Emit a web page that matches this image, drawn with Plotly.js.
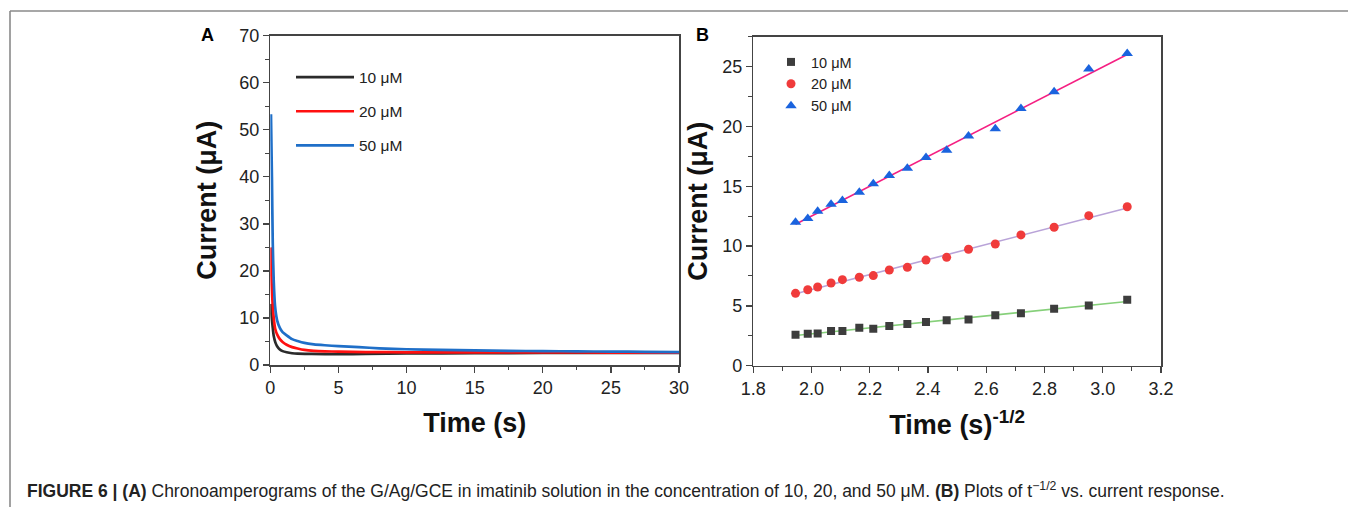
<!DOCTYPE html>
<html>
<head>
<meta charset="utf-8">
<script src="https://cdn.plot.ly/plotly-3.0.1.min.js"></script>
<style>
  html, body { margin: 0; padding: 0; background: #fff; }
  #chart { width: 1348px; height: 507px; }
</style>
</head>
<body>
<div id="chart"></div>
<script>
// ---------- Panel A: chronoamperograms (time in s, current in µA) ----------
const t10 = [0.03, 0.10, 0.16, 0.25, 0.37, 0.50, 0.70, 0.90, 1.2, 1.6, 2.0, 3.0, 5.0, 7.0, 10, 15, 20, 25, 30];
const i10 = [13.0, 10.0, 8.5, 6.2, 4.8, 4.0, 3.3, 2.95, 2.7, 2.5, 2.4, 2.35, 2.3, 2.35, 2.45, 2.5, 2.55, 2.55, 2.55];

const t20 = [0.03, 0.10, 0.18, 0.27, 0.37, 0.50, 0.70, 0.90, 1.2, 1.6, 2.0, 2.5, 3.2, 4.0, 5.0, 7.0, 10, 15, 20, 25, 30];
const i20 = [25.0, 17.0, 12.5, 9.5, 7.6, 6.5, 5.5, 4.9, 4.3, 3.8, 3.5, 3.2, 3.0, 2.9, 2.85, 2.75, 2.7, 2.7, 2.7, 2.65, 2.65];

const t50 = [0.05, 0.12, 0.18, 0.25, 0.35, 0.50, 0.70, 0.90, 1.2, 1.6, 2.0, 2.5, 3.2, 4.0, 5.0, 6.5, 8.0, 10, 12.5, 15, 17.5, 20, 22.5, 25, 27.5, 30];
const i50 = [53.3, 40.0, 26.0, 18.0, 12.5, 9.5, 7.9, 7.0, 6.3, 5.5, 5.1, 4.7, 4.4, 4.2, 4.0, 3.8, 3.55, 3.35, 3.2, 3.1, 3.0, 2.95, 2.9, 2.85, 2.8, 2.75];

const namesA = ["10 μM", "20 μM", "50 μM"];

// ---------- Panel B: t^-1/2 vs current ----------
const xB  = [1.945, 1.987, 2.021, 2.067, 2.106, 2.164, 2.212, 2.267, 2.329, 2.393, 2.464, 2.539, 2.631, 2.719, 2.833, 2.952, 3.084];
const y10 = [2.59, 2.68, 2.70, 2.90, 2.90, 3.18, 3.09, 3.32, 3.48, 3.65, 3.79, 3.87, 4.21, 4.38, 4.77, 5.04, 5.52];
const y20 = [6.05, 6.35, 6.58, 6.91, 7.19, 7.39, 7.53, 8.00, 8.22, 8.83, 9.06, 9.73, 10.17, 10.93, 11.57, 12.54, 13.29];
const y50 = [12.0, 12.3, 12.9, 13.5, 13.8, 14.5, 15.2, 15.9, 16.5, 17.4, 18.0, 19.2, 19.8, 21.5, 22.9, 24.8, 26.1];
const namesB = ["10 μM", "20 μM", "50 μM"];

// linear least-squares fit computed from the data
function fit(x, y) {
  const n = x.length;
  let sx = 0, sy = 0, sxx = 0, sxy = 0;
  for (let i = 0; i < n; i++) { sx += x[i]; sy += y[i]; sxx += x[i]*x[i]; sxy += x[i]*y[i]; }
  const b = (n*sxy - sx*sy) / (n*sxx - sx*sx);
  const a = (sy - b*sx) / n;
  const xs = [Math.min(...x), Math.max(...x)];
  return { x: xs, y: xs.map(v => a + b*v) };
}

const FONT = "Arial, 'Liberation Sans', Helvetica, sans-serif";
const lineColsA = ["#2b2b2b", "#ff1010", "#1f6fc8"];
const markCols = ["#3d3d3d", "#f03b3b", "#1a63de"];
const symbols = ["square", "circle", "triangle-up"];
const msizes = [8, 9, 10];
const fitCols = ["#86d07a", "#b9a3d8", "#f51f82"];

const traces = [];
[[t10,i10],[t20,i20],[t50,i50]].forEach((d, k) => {
  traces.push({
    x: d[0], y: d[1], type: "scatter", mode: "lines", name: namesA[k],
    line: { color: lineColsA[k], width: 2.7, shape: "spline", smoothing: 0.6 },
    xaxis: "x", yaxis: "y", legend: "legend", legendgroup: "a" + k
  });
});
[y10, y20, y50].forEach((yy, k) => {
  const f = fit(xB, yy);
  traces.push({
    x: f.x, y: f.y, type: "scatter", mode: "lines", showlegend: false,
    line: { color: fitCols[k], width: 1.6 }, xaxis: "x2", yaxis: "y2", hoverinfo: "skip"
  });
});
[y10, y20, y50].forEach((yy, k) => {
  traces.push({
    x: xB, y: yy, type: "scatter", mode: "markers", name: namesB[k],
    marker: { symbol: symbols[k], size: msizes[k], color: markCols[k] },
    xaxis: "x2", yaxis: "y2", legend: "legend2"
  });
});

const axisCommon = {
  showgrid: false, zeroline: false, showline: true, linecolor: "#444", linewidth: 1.5,
  mirror: true, ticks: "outside", ticklen: 6, tickwidth: 1.3, tickcolor: "#444",
  tickfont: { family: FONT, size: 18, color: "#222" }, automargin: false,
  fixedrange: true
};
const titleFont = { family: FONT, size: 27, color: "#111", weight: "bold" };

const W = 1348, H = 507;
const px = v => v / W, py = v => 1 - v / H;

const layout = {
  width: W, height: H, autosize: false,
  margin: { l: 0, r: 0, t: 0, b: 0 },
  paper_bgcolor: "#fff", plot_bgcolor: "#fff",
  xaxis: Object.assign({}, axisCommon, {
    domain: [px(270.3), px(679)], range: [0, 30], dtick: 5, tick0: 0,
    minor: { dtick: 2.5, ticks: "outside", ticklen: 3.5, tickcolor: "#444", tickwidth: 1 },
    title: { text: "<b>Time (s)</b>", font: titleFont, standoff: 16 },
    anchor: "y"
  }),
  yaxis: Object.assign({}, axisCommon, {
    domain: [py(365), py(35.7)], range: [0, 70], dtick: 10, tick0: 0,
    minor: { dtick: 5, ticks: "outside", ticklen: 3.5, tickcolor: "#444", tickwidth: 1 },
    title: { text: "<b>Current (μA)</b>", font: titleFont, standoff: 14 },
    anchor: "x"
  }),
  xaxis2: Object.assign({}, axisCommon, {
    domain: [px(753.3), px(1161)], range: [1.8, 3.2], dtick: 0.2, tick0: 1.8, tickformat: ".1f",
    minor: { dtick: 0.1, ticks: "outside", ticklen: 3.5, tickcolor: "#444", tickwidth: 1 },
    title: { text: "<b>Time (s)<sup>-1/2</sup></b>", font: titleFont, standoff: 17 },
    anchor: "y2"
  }),
  yaxis2: Object.assign({}, axisCommon, {
    domain: [py(365.7), py(36.7)], range: [0, 27.5], dtick: 5, tick0: 0,
    minor: { dtick: 2.5, ticks: "outside", ticklen: 3.5, tickcolor: "#444", tickwidth: 1 },
    title: { text: "<b>Current (μA)</b>", font: titleFont, standoff: 6 },
    anchor: "x2"
  }),
  showlegend: true,
  legend: {
    x: px(291), y: py(60.5), xanchor: "left", yanchor: "top",
    bgcolor: "rgba(0,0,0,0)", borderwidth: 0,
    font: { family: FONT, size: 15.5, color: "#222" },
    tracegroupgap: 11, itemwidth: 58
  },
  legend2: {
    x: px(771), y: py(46), xanchor: "left", yanchor: "top",
    bgcolor: "rgba(0,0,0,0)", borderwidth: 0,
    font: { family: FONT, size: 14.5, color: "#222" },
    itemwidth: 30
  },
  shapes: [
    { type: "line", xref: "paper", yref: "paper", x0: px(10), x1: 1, y0: py(11), y1: py(11),
      line: { color: "#8a8a8a", width: 1.6 } },
    { type: "line", xref: "paper", yref: "paper", x0: px(10), x1: px(10), y0: py(11), y1: 0,
      line: { color: "#8a8a8a", width: 1.6 } }
  ],
  annotations: [
    { xref: "paper", yref: "paper", x: px(207), y: py(35), text: "<b>A</b>", showarrow: false,
      xanchor: "center", yanchor: "middle", font: { family: FONT, size: 18, color: "#000" } },
    { xref: "paper", yref: "paper", x: px(702), y: py(35), text: "<b>B</b>", showarrow: false,
      xanchor: "center", yanchor: "middle", font: { family: FONT, size: 18, color: "#000" } },
    { xref: "paper", yref: "paper", x: px(25), y: py(490), xanchor: "left", yanchor: "middle",
      showarrow: false, align: "left",
      text: "<b>FIGURE 6 | (A)</b> Chronoamperograms of the G/Ag/GCE in imatinib solution in the concentration of 10, 20, and 50 μM. <b>(B)</b> Plots of t<sup>−1/2</sup> vs. current response.",
      font: { family: FONT, size: 17.5, color: "#222" } }
  ]
};

Plotly.newPlot("chart", traces, layout, { displayModeBar: false, staticPlot: true });
</script>
</body>
</html>
